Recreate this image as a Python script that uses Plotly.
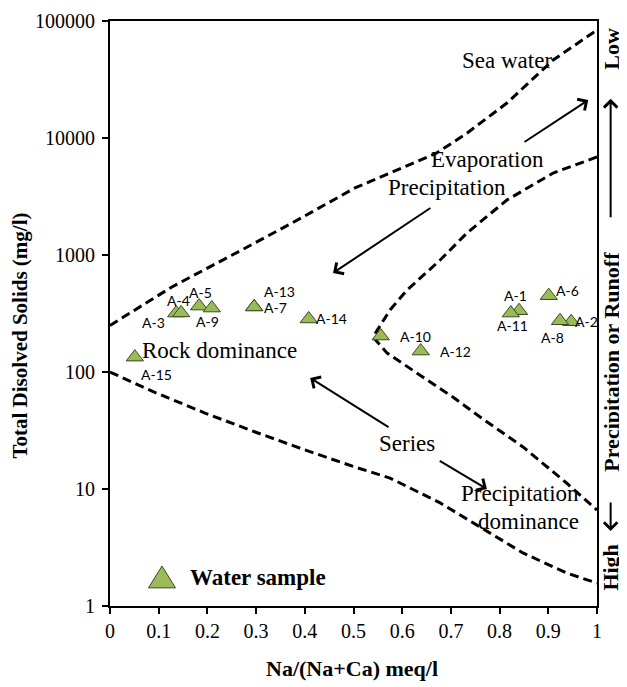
import math
import plotly.graph_objects as go

# ---------------- data ----------------
sample_ids = ['A-1', 'A-2', 'A-3', 'A-4', 'A-5', 'A-6', 'A-7', 'A-8', 'A-9', 'A-10',
              'A-11', 'A-12', 'A-13', 'A-14', 'A-15']
na_ratio = [0.840, 0.947, 0.136, 0.146, 0.183, 0.901, 0.296, 0.924, 0.209, 0.556,
            0.823, 0.638, 0.296, 0.408, 0.051]
tds = [334, 269, 319, 320, 366, 449, 360, 274, 352, 203,
       319, 151, 360, 284, 134]

# Gibbs boundary curves
upper_x = [0.0, 0.127, 0.251, 0.374, 0.503, 0.575, 0.671, 0.733, 0.815, 0.910, 1.0]
upper_y = [250, 533, 1000, 1878, 3740, 5020, 7450, 11000, 19900, 46400, 83800]
lower_x = [0.0, 0.092, 0.195, 0.298, 0.400, 0.503, 0.575, 0.678, 0.760, 0.848, 0.938, 1.0]
lower_y = [100, 67, 44.6, 30.7, 21.6, 15.4, 12.4, 7.6, 4.73, 2.84, 1.91, 1.57]
inner_x = [1.0, 0.910, 0.815, 0.733, 0.678, 0.610, 0.575, 0.544, 0.540, 0.569, 0.643,
           0.704, 0.760, 0.848, 0.938, 1.0]
inner_y = [6880, 5020, 2950, 1542, 906, 502, 339, 215, 199, 145, 90.6,
           61.1, 41.2, 22.9, 11.2, 6.6]

x_ticks = [0, 0.1, 0.2, 0.3, 0.4, 0.5, 0.6, 0.7, 0.8, 0.9, 1]
x_tick_text = ['0', '0.1', '0.2', '0.3', '0.4', '0.5', '0.6', '0.7', '0.8', '0.9', '1']
y_ticks = [1, 10, 100, 1000, 10000, 100000]
y_tick_text = ['1', '10', '100', '1000', '10000', '100000']

legend_name = 'Water sample'

# label placement style: (xanchor, xshift, yshift)
label_style = {
    'A-1': ('center', -4, 15), 'A-2': ('left', 2, 0), 'A-3': ('right', -9, -9),
    'A-4': ('center', -3, 12), 'A-5': ('center', 1, 14), 'A-6': ('left', 5, 5),
    'A-7': ('left', 8, -1), 'A-8': ('center', -7, -17), 'A-9': ('center', -4, -13),
    'A-10': ('left', 17, 0), 'A-11': ('center', 2, -12), 'A-12': ('left', 17, 0),
    'A-13': ('left', 8, 15), 'A-14': ('left', 5, 0), 'A-15': ('left', 4, -17),
}

SERIF = 'Liberation Serif, Times New Roman, serif'
LABEL_FONT = 'Lato, Carlito, Calibri, sans-serif'
GREEN = '#9BBB59'
EDGE = '#3b4a22'

fig = go.Figure()

dash_line = dict(color='black', width=3, dash='9px,5px')
for cx, cy in [(upper_x, upper_y), (lower_x, lower_y), (inner_x, inner_y)]:
    fig.add_trace(go.Scatter(x=cx, y=cy, mode='lines', line=dash_line,
                             showlegend=False, hoverinfo='skip'))

fig.add_trace(go.Scatter(
    x=na_ratio, y=tds, mode='markers', name=legend_name,
    text=sample_ids,
    marker=dict(symbol='triangle-up', size=15, color=GREEN,
                line=dict(color=EDGE, width=1)),
    showlegend=False))

# sample labels
for sid, xv, yv in zip(sample_ids, na_ratio, tds):
    xa, xs, ys = label_style[sid]
    fig.add_annotation(x=xv, y=math.log10(yv), text=sid, showarrow=False,
                       xanchor=xa, yanchor='middle', xshift=xs, yshift=ys,
                       font=dict(family=LABEL_FONT, size=14, color='black'))

# region texts
region_texts = [
    ('Sea water', 0.815, 46000, 'center'),
    ('Evaporation', 0.776, 6500, 'center'),
    ('Precipitation', 0.692, 3800, 'center'),
    ('Rock dominance', 0.062, 154, 'left'),
    ('Series', 0.61, 24.7, 'center'),
    ('Precipitation', 0.968, 9.1, 'right'),
    ('dominance', 0.968, 5.3, 'right'),
]
for t, xv, yv, xa in region_texts:
    fig.add_annotation(x=xv, y=math.log10(yv), text=t, showarrow=False,
                       xanchor=xa, yanchor='middle',
                       font=dict(family=SERIF, size=23, color='black'))

# process arrows: (tail_x, tail_y, head_x, head_y)
arrows = [
    (0.848, 9060, 0.982, 21100),
    (0.661, 2570, 0.458, 702),
    (0.575, 33.2, 0.411, 88.9),
    (0.674, 17.7, 0.774, 10.0),
]
for tx, ty, hx, hy in arrows:
    fig.add_annotation(x=hx, y=math.log10(hy), ax=tx, ay=math.log10(ty),
                       xref='x', yref='y', axref='x', ayref='y', text='',
                       showarrow=True, arrowhead=4, arrowsize=1.3, arrowwidth=2,
                       arrowcolor='black')

# legend (drawn manually so the symbol can be as large as in the original)
fig.add_shape(type='path', xref='paper', yref='paper',
              path='M 0.079,0.031 L 0.1345,0.031 L 0.1068,0.0684 Z',
              fillcolor=GREEN, line=dict(color=EDGE, width=1))
fig.add_annotation(xref='paper', yref='paper', x=0.160, y=0.048,
                   text='<b>' + legend_name + '</b>', showarrow=False,
                   xanchor='left', yanchor='middle',
                   font=dict(family=SERIF, size=23, color='black'))

# right-side vertical annotation
RX = 1.028
side_font = dict(family=SERIF, size=22, color='black')
for txt, yv in [('<b>Low</b>', 0.952), ('<b>Precipitation or Runoff</b>', 0.417),
                ('<b>High</b>', 0.065)]:
    fig.add_annotation(xref='paper', yref='paper', x=RX, y=yv, text=txt,
                       textangle=-90, showarrow=False, xanchor='center',
                       yanchor='middle', font=side_font)
fig.add_annotation(xref='paper', yref='paper', x=RX, y=0.867, ax=0, ay=120,
                   axref='pixel', ayref='pixel', text='', showarrow=True,
                   arrowhead=4, arrowsize=1.3, arrowwidth=2, arrowcolor='black')
fig.add_annotation(xref='paper', yref='paper', x=RX, y=0.128, ax=0, ay=-30,
                   axref='pixel', ayref='pixel', text='', showarrow=True,
                   arrowhead=4, arrowsize=1.3, arrowwidth=2, arrowcolor='black')

# axis titles
fig.add_annotation(xref='paper', yref='paper', x=-0.184, y=0.463,
                   text='<b>Total Disolved Solids (mg/l)</b>', textangle=-90,
                   showarrow=False, xanchor='center', yanchor='middle',
                   font=dict(family=SERIF, size=21, color='black'))
fig.add_annotation(xref='paper', yref='paper', x=0.497, y=-0.106,
                   text='<b>Na/(Na+Ca) meq/l</b>', showarrow=False,
                   xanchor='center', yanchor='middle',
                   font=dict(family=SERIF, size=22, color='black'))

axis_common = dict(showgrid=False, zeroline=False, showline=True, linecolor='black',
                   linewidth=2, mirror=True, ticks='outside', ticklen=6, tickwidth=2,
                   tickcolor='black', automargin=False,
                   tickfont=dict(family=SERIF, size=20, color='black'))

fig.update_layout(
    width=627, height=687,
    margin=dict(l=102, r=38, t=13, b=89),
    paper_bgcolor='white', plot_bgcolor='white',
    font=dict(family=SERIF, size=20, color='black'),
    showlegend=False,
    xaxis=dict(range=[0, 1], tickvals=x_ticks, ticktext=x_tick_text, **axis_common),
    yaxis=dict(type='log', range=[0, 5], tickvals=y_ticks, ticktext=y_tick_text,
               ticklabelstandoff=3, **axis_common),
)

fig.write_html('out.html')
